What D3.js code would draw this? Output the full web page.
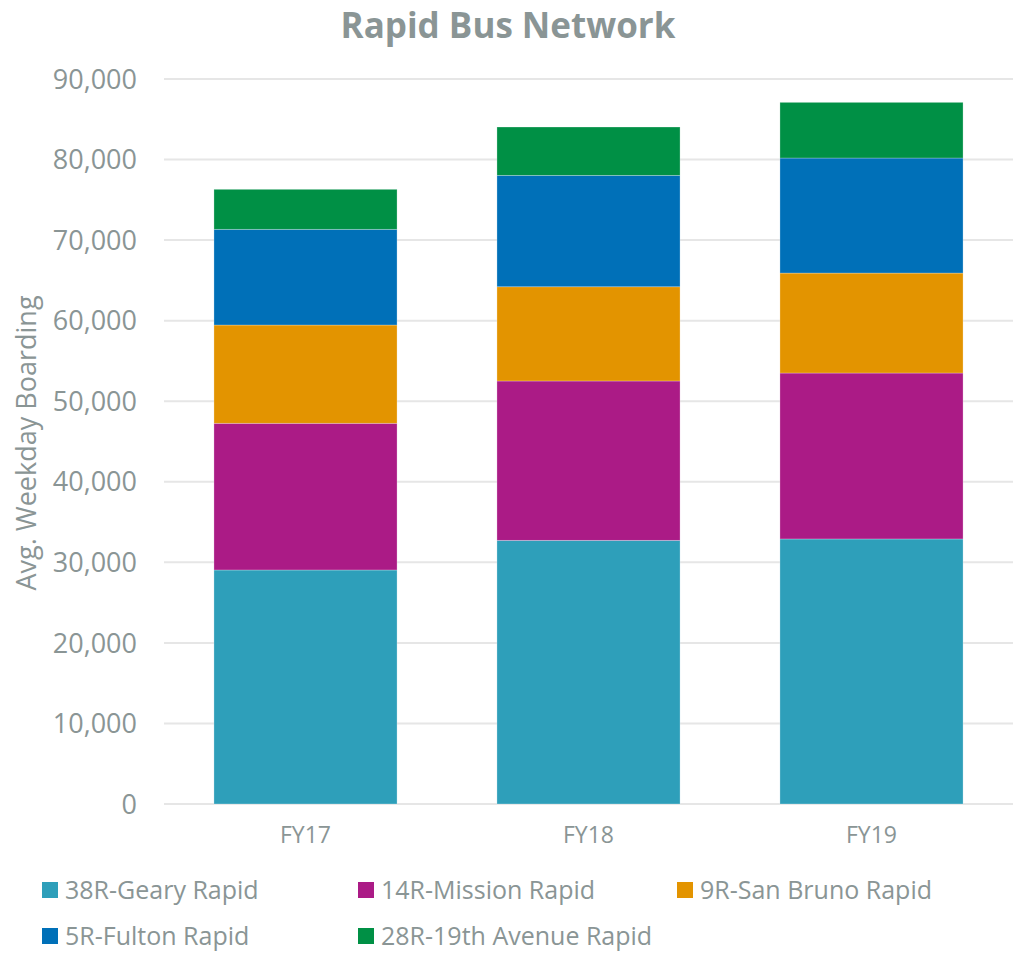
<!DOCTYPE html>
<html>
<head>
<meta charset="utf-8">
<script src="https://cdn.jsdelivr.net/npm/d3@7"></script>
<style>
  body { margin: 0; background: #fff; }
  text { font-family: "Open Sans", "Noto Sans", sans-serif; fill: #8a9595; }
</style>
</head>
<body>
<div id="chart"></div>
<script>
const years = ["FY17", "FY18", "FY19"];
const routes = ["38R-Geary Rapid", "14R-Mission Rapid", "9R-San Bruno Rapid", "5R-Fulton Rapid", "28R-19th Avenue Rapid"];
const geary = [29050, 32730, 32900];
const mission = [18210, 19780, 20600];
const sanBruno = [12200, 11700, 12410];
const fulton = [11880, 13830, 14280];
const avenue19 = [4965, 6000, 6910];
const yTicks = [0, 10000, 20000, 30000, 40000, 50000, 60000, 70000, 80000, 90000];
const colors = ["#2e9fba", "#ab1b86", "#e39400", "#0070b8", "#009045"];

const series = [geary, mission, sanBruno, fulton, avenue19];
const rows = years.map((yr, i) => {
  const r = { year: yr };
  routes.forEach((name, k) => (r[name] = series[k][i]));
  return r;
});

const W = 1017, H = 953;
const svg = d3.select("#chart").append("svg").attr("width", W).attr("height", H);

const x = d3.scaleBand().domain(years).range([164, 1013])
  .paddingInner(0.353).paddingOuter(0.1765);
const y = d3.scaleLinear().domain([0, 90000]).range([804, 79]);

// gridlines
svg.append("g")
  .selectAll("line")
  .data(yTicks)
  .join("line")
  .attr("x1", 164)
  .attr("x2", 1013)
  .attr("y1", (d) => y(d))
  .attr("y2", (d) => y(d))
  .attr("stroke", "#e6e6e6")
  .attr("stroke-width", 2);

// y tick labels
svg.append("g")
  .selectAll("text")
  .data(yTicks)
  .join("text")
  .attr("x", 137)
  .attr("y", (d) => y(d))
  .attr("dy", "0.36em")
  .attr("text-anchor", "end")
  .style("font-size", "27px")
  .text((d) => d3.format(",")(d));

// stacked bars
const stack = d3.stack().keys(routes)(rows);
svg.append("g")
  .selectAll("g")
  .data(stack)
  .join("g")
  .attr("fill", (d, i) => colors[i])
  .selectAll("rect")
  .data((d) => d)
  .join("rect")
  .attr("x", (d) => x(d.data.year))
  .attr("width", x.bandwidth())
  .attr("y", (d) => y(d[1]))
  .attr("height", (d) => y(d[0]) - y(d[1]))
  .attr("stroke", "#ffffff")
  .attr("stroke-opacity", 0.35)
  .attr("stroke-width", 0.75);

// x labels
svg.append("g")
  .selectAll("text")
  .data(years)
  .join("text")
  .attr("x", (d) => x(d) + x.bandwidth() / 2)
  .attr("y", 843)
  .attr("text-anchor", "middle")
  .style("font-size", "23px")
  .text((d) => d);

// title
svg.append("text")
  .attr("x", 508)
  .attr("y", 38)
  .attr("text-anchor", "middle")
  .style("font-size", "35px")
  .style("font-weight", "bold")
  .text("Rapid Bus Network");

// y axis title
svg.append("text")
  .attr("transform", "translate(36,443) rotate(-90)")
  .attr("text-anchor", "middle")
  .style("font-size", "27px")
  .text("Avg. Weekday Boarding");

// legend
const legendPos = [
  [42, 882], [358, 882], [677, 882],
  [42, 928], [358, 928]
];
const legend = svg.append("g")
  .selectAll("g")
  .data(routes)
  .join("g")
  .attr("transform", (d, i) => `translate(${legendPos[i][0]},${legendPos[i][1]})`);
legend.append("rect")
  .attr("width", 16)
  .attr("height", 16)
  .attr("fill", (d, i) => colors[i]);
legend.append("text")
  .attr("x", 23)
  .attr("y", 8)
  .attr("dy", "0.36em")
  .style("font-size", "25px")
  .text((d) => d);
</script>
</body>
</html>
